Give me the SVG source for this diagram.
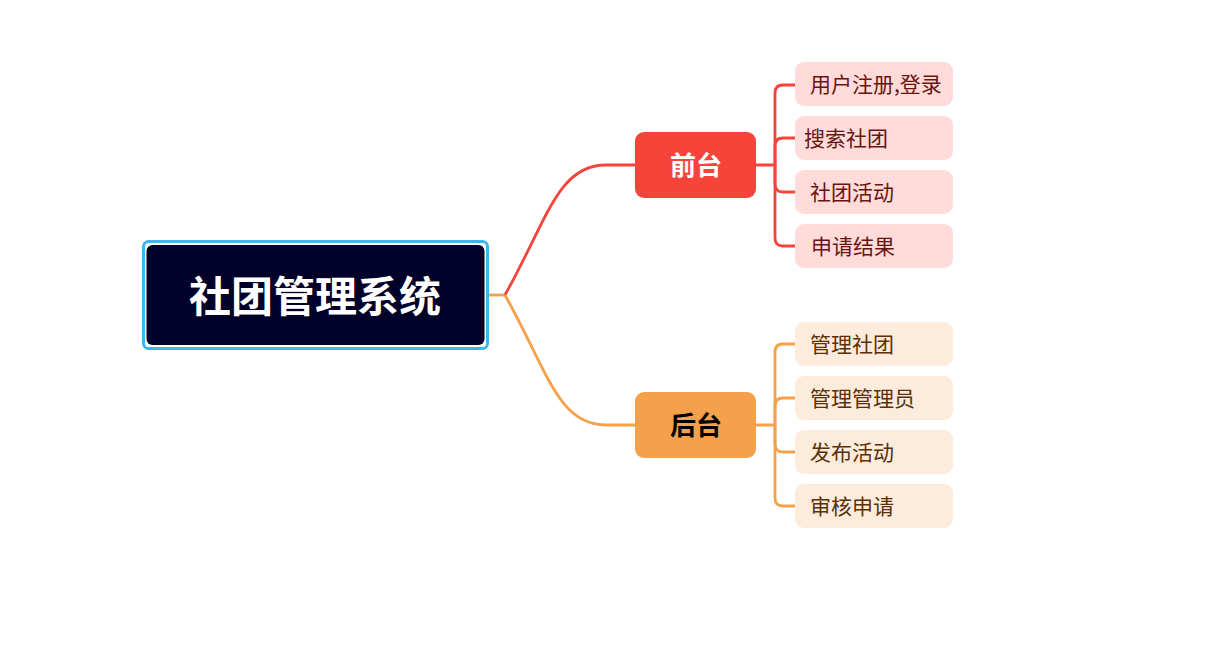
<svg xmlns="http://www.w3.org/2000/svg" width="1222" height="660" viewBox="0 0 1222 660">
<style>
text{font-family:"Noto Sans CJK SC","Noto Sans",sans-serif;}
.red{stroke:#f6443b;stroke-width:2.8;fill:none;}
.org{stroke:#f5a04a;stroke-width:2.8;fill:none;}
.cr{fill:#ffdbd9;}
.co{fill:#fdebdc;}
.tr{font-size:21px;fill:#6a1410;}
.to{font-size:21px;fill:#5a3006;}
</style>
<rect width="1222" height="660" fill="#ffffff"/>
<g id="connectors">
<path class="org" d="M488,295 H505"/>
<path class="red" d="M505,295 C548,218 558,165 606,165 H636"/>
<path class="org" d="M505,295 C548,372 558,425 606,425 H636"/>
<path class="red" d="M756,165 H775 V93 Q775,85 783,85 H796"/>
<path class="red" d="M775,165 V146 Q775,138 783,138 H796"/>
<path class="red" d="M775,165 V184 Q775,192 783,192 H796"/>
<path class="red" d="M775,165 V238 Q775,246 783,246 H796"/>
<path class="org" d="M756,425 H775 V352 Q775,344 783,344 H796"/>
<path class="org" d="M775,425 V406 Q775,398 783,398 H796"/>
<path class="org" d="M775,425 V444 Q775,452 783,452 H796"/>
<path class="org" d="M775,425 V498 Q775,506 783,506 H796"/>
</g>
<g id="root">
<rect x="143.5" y="241.5" width="344" height="107" rx="5" fill="#ffffff" stroke="#3bb6f0" stroke-width="3"/>
<rect x="146.5" y="245" width="338" height="100" rx="6" fill="#000028"/>
<text x="315" y="312" text-anchor="middle" font-size="42" font-weight="bold" fill="#ffffff">社团管理系统</text>
</g>
<g id="qiantai">
<rect x="635" y="132" width="121" height="66" rx="9" fill="#f6443b"/>
<text x="696" y="175" text-anchor="middle" font-size="26" font-weight="bold" fill="#ffffff">前台</text>
</g>
<g id="houtai">
<rect x="635" y="392" width="121" height="66" rx="9" fill="#f5a04a"/>
<text x="696" y="435" text-anchor="middle" font-size="26" font-weight="bold" fill="#000000">后台</text>
</g>
<g id="c1"><rect class="cr" x="795" y="62" width="158" height="44" rx="9"/><text class="tr" x="810" y="92">用户注册,登录</text></g>
<g id="c2"><rect class="cr" x="795" y="116" width="158" height="44" rx="9"/><text class="tr" x="804" y="146">搜索社团</text></g>
<g id="c3"><rect class="cr" x="795" y="170" width="158" height="44" rx="9"/><text class="tr" x="810" y="200">社团活动</text></g>
<g id="c4"><rect class="cr" x="795" y="224" width="158" height="44" rx="9"/><text class="tr" x="811" y="254">申请结果</text></g>
<g id="c5"><rect class="co" x="795" y="322" width="158" height="44" rx="9"/><text class="to" x="810" y="352">管理社团</text></g>
<g id="c6"><rect class="co" x="795" y="376" width="158" height="44" rx="9"/><text class="to" x="810" y="406">管理管理员</text></g>
<g id="c7"><rect class="co" x="795" y="430" width="158" height="44" rx="9"/><text class="to" x="810" y="460">发布活动</text></g>
<g id="c8"><rect class="co" x="795" y="484" width="158" height="44" rx="9"/><text class="to" x="810" y="514">审核申请</text></g>
</svg>
